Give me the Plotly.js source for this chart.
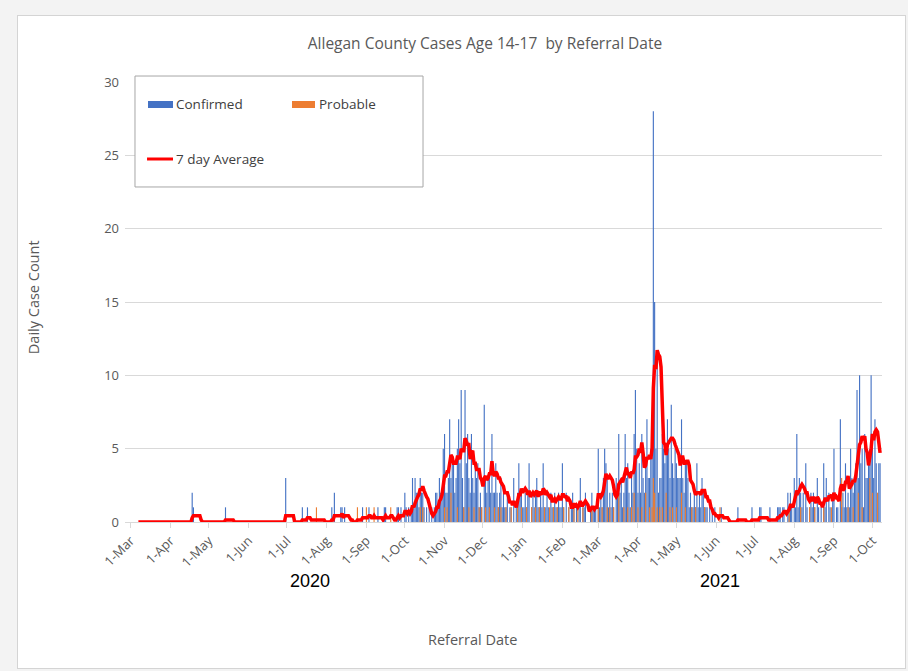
<!DOCTYPE html>
<html>
<head>
<meta charset="utf-8">
<script src="https://cdn.plot.ly/plotly-3.0.1.min.js"></script>
<style>
  html, body { margin: 0; padding: 0; background: #f3f3f3; width: 908px; height: 671px; overflow: hidden; }
  #frame { position: absolute; left: 17px; top: 15px; width: 889px; height: 654px; background: #ffffff; }
  #border { position: absolute; left: 17px; top: 15px; width: 889px; height: 654px; box-sizing: border-box; border: 1px solid #d4d4d4; pointer-events: none; }
  #chart { position: absolute; left: 0; top: 0; width: 889px; height: 654px; }
</style>
</head>
<body>
<div id="frame"><div id="chart"></div></div>
<div id="border"></div>
<script>
// Daily counts, one line per month, starting 1-Mar-2020.
const confirmed2020 = [
  0,0,0,0,0,0,0,0,0,0, 0,0,0,0,0,0,0,0,0,0, 0,0,0,0,0,0,0,0,0,0, 0,          // Mar
  0,0,0,0,0,0,0,0,0,0, 0,0,0,0,0,0,0,2,1,0, 0,0,0,0,0,0,0,0,0,0,            // Apr
  0,0,0,0,0,0,0,0,0,0, 0,0,0,1,0,0,0,0,0,0, 0,0,0,0,0,0,0,0,0,0, 0,          // May
  0,0,0,0,0,0,0,0,0,0, 0,0,0,0,0,0,0,0,0,0, 0,0,0,0,0,0,0,0,0,3,            // Jun
  0,0,0,0,0,0,0,0,0,0, 0,0,1,0,0,0,1,0,0,0, 0,0,0,0,0,0,0,0,0,0, 0,          // Jul
  0,0,0,0,1,0,2,0,0,0, 0,1,1,0,1,0,0,0,0,0, 0,0,0,0,0,0,0,0,1,0, 0,          // Aug
  0,0,1,0,0,0,0,0,0,1, 0,0,0,0,1,1,0,0,0,0, 0,0,0,0,1,1,0,1,0,0,            // Sep
  2,1,0,1,0,1,3,1,3,2, 2,1,3,2,2,1,0,1,0,1, 0,1,0,1,2,2,1,3,2,2, 5,          // Oct
  6,2,2,3,7,3,4,4,2,3, 5,7,4,9,3,1,9,4,6,3, 2,6,3,2,4,3,4,1,2,1,            // Nov
  0,8,3,2,3,3,2,6,2,2, 4,2,1,2,3,1,2,1,1,2, 0,1,1,0,3,0,1,2,4,2, 2           // Dec
];
const confirmed2021 = [
  1,1,2,1,2,4,0,1,2,1, 2,3,1,1,2,1,4,1,1,2, 1,0,2,1,1,2,1,1,2,1, 1,          // Jan
  4,1,0,2,0,1,0,1,2,1, 0,1,0,1,3,0,1,1,2,0, 0,0,1,2,1,1,1,0,                // Feb
  5,1,2,1,3,5,4,3,1,2, 1,2,1,0,3,2,6,2,3,1, 2,6,3,4,2,1,3,2,6,9, 5,          // Mar
  2,4,2,6,3,2,4,7,3,3, 5,7,28,15,5,11,2,3,3,6, 5,4,5,7,5,3,8,4,3,5,          // Apr
  4,3,3,3,7,3,2,4,4,3, 1,2,1,1,2,1,4,1,2,1, 3,2,1,1,1,0,1,0,1,0, 1,          // May
  0,0,0,0,1,0,0,0,0,0, 0,0,0,0,0,0,0,1,0,0, 0,0,0,0,0,0,0,0,1,0,            // Jun
  0,0,0,0,1,1,0,0,0,0, 0,0,1,0,0,0,0,0,1,1, 1,0,1,1,0,0,2,1,2,1, 0,          // Jul
  3,1,6,1,3,2,1,2,0,4, 1,0,1,2,1,2,1,0,3,1, 0,1,0,4,1,3,0,2,1,0, 2,          // Aug
  5,0,1,1,0,7,1,2,1,4, 1,2,1,5,3,2,3,4,9,3, 10,4,5,1,6,3,3,4,5,10,           // Sep
  6,3,7,4,1,4,4                                                              // Oct 1-7
];
const probable2020 = [
  0,0,0,0,0,0,0,0,0,0, 0,0,0,0,0,0,0,0,0,0, 0,0,0,0,0,0,0,0,0,0, 0,          // Mar
  0,0,0,0,0,0,0,0,0,0, 0,0,0,0,0,0,0,0,0,0, 0,0,0,0,0,0,0,0,0,0,            // Apr
  0,0,0,0,0,0,0,0,0,0, 0,0,0,0,0,0,0,0,0,0, 0,0,0,0,0,0,0,0,0,0, 0,          // May
  0,0,0,0,0,0,0,0,0,0, 0,0,0,0,0,0,0,0,0,0, 0,0,0,0,0,0,0,0,0,0,            // Jun
  0,0,0,0,0,0,0,0,0,0, 0,0,0,0,0,0,0,0,0,0, 0,0,0,1,0,0,0,0,0,0, 0,          // Jul
  0,0,0,0,0,0,0,0,0,0, 0,0,0,0,0,0,0,0,0,0, 0,0,0,0,1,0,0,0,0,0, 0,          // Aug
  1,0,0,0,0,0,1,0,0,0, 0,0,0,0,0,0,0,0,0,1, 0,0,0,0,0,0,0,0,0,0,            // Sep
  0,0,0,0,0,0,0,0,0,0, 0,0,1,0,1,0,0,0,0,0, 0,0,0,0,0,0,0,0,0,0, 0,          // Oct
  1,0,1,0,0,2,0,0,0,0, 1,0,0,0,0,1,0,0,0,1, 0,0,0,1,0,0,0,1,0,1,            // Nov
  0,0,1,0,0,1,0,0,0,1, 0,0,1,0,1,0,0,0,1,0, 0,0,1,0,0,0,0,1,0,0, 1           // Dec
];
const probable2021 = [
  0,0,0,1,0,0,0,1,0,0, 1,0,0,1,0,0,0,1,0,0, 0,1,0,0,1,0,0,1,0,0, 0,          // Jan
  0,1,0,0,0,1,0,0,0,1, 0,0,1,0,0,0,1,0,0,0, 0,0,0,1,0,0,0,0,                // Feb
  1,0,0,1,0,0,0,1,0,1, 0,0,1,0,0,0,2,0,0,0, 1,0,0,1,0,0,1,0,2,0, 0,          // Mar
  1,0,0,1,0,0,2,0,0,1, 0,1,3,2,0,1,0,1,0,1, 0,0,2,0,0,1,0,1,0,0,            // Apr
  1,0,0,0,2,0,0,1,0,0, 0,0,1,0,0,1,0,0,0,0, 0,0,1,0,0,0,0,0,0,0, 0,          // May
  0,0,0,1,0,0,0,0,0,0, 0,0,0,0,0,0,0,0,0,0, 0,0,0,0,0,0,0,0,0,0,            // Jun
  0,0,0,0,0,0,0,0,0,0, 0,0,0,0,0,0,0,0,0,0, 0,0,0,0,0,0,0,1,0,0, 0,          // Jul
  0,0,0,0,0,1,0,0,0,0, 0,0,1,0,0,0,1,0,0,0, 0,0,0,1,0,0,0,0,0,1, 0,          // Aug
  0,0,0,0,0,0,3,0,0,0, 0,1,0,0,0,1,0,0,0,2, 0,0,1,0,0,0,0,0,3,0,            // Sep
  2,0,0,0,2,0,0                                                              // Oct 1-7
];

// Month tick labels of the date axis
const tickDates = ['2020-03-01','2020-04-01','2020-05-01','2020-06-01','2020-07-01','2020-08-01',
  '2020-09-01','2020-10-01','2020-11-01','2020-12-01','2021-01-01','2021-02-01','2021-03-01',
  '2021-04-01','2021-05-01','2021-06-01','2021-07-01','2021-08-01','2021-09-01','2021-10-01'];
const tickLabels = ['1-Mar','1-Apr','1-May','1-Jun','1-Jul','1-Aug','1-Sep','1-Oct','1-Nov','1-Dec',
  '1-Jan','1-Feb','1-Mar','1-Apr','1-May','1-Jun','1-Jul','1-Aug','1-Sep','1-Oct'];
const yearLabels = ['2020', '2021'];
const seriesNames = ['Confirmed', 'Probable', '7 day Average'];

const confirmed = confirmed2020.concat(confirmed2021);
const probable = probable2020.concat(probable2021);
const DAY = 86400000;
const start = Date.UTC(2020, 2, 1);
const dates = confirmed.map((_, i) => new Date(start + i * DAY).toISOString().slice(0, 10));

// 7-day trailing average of all cases (confirmed + probable)
const avgX = [], avgY = [];
for (let i = 6; i < confirmed.length; i++) {
  let s = 0;
  for (let k = i - 6; k <= i; k++) s += confirmed[k] + probable[k];
  avgX.push(dates[i]);
  avgY.push(s / 7);
}

const BLUE = '#4472C4', ORANGE = '#ED7D31', RED = '#FF0000';
const FONT = 'Open Sans, Noto Sans, sans-serif';

const traces = [
  { type: 'bar', name: seriesNames[0], x: dates, y: confirmed, width: 0.88 * DAY,
    marker: { color: BLUE, line: { width: 0 } }, hoverinfo: 'skip' },
  { type: 'bar', name: seriesNames[1], x: dates, y: probable, width: 0.88 * DAY,
    marker: { color: ORANGE, line: { width: 0 } }, hoverinfo: 'skip' },
  { type: 'scatter', mode: 'lines', name: seriesNames[2], x: avgX, y: avgY,
    line: { color: RED, width: 3.5 }, hoverinfo: 'skip' }
];

const layout = {
  width: 889, height: 654,
  margin: { l: 108, r: 24, t: 67, b: 147 },
  paper_bgcolor: '#ffffff', plot_bgcolor: '#ffffff',
  showlegend: false,
  barmode: 'overlay',
  font: { family: FONT, color: '#595959' },
  title: {
    text: 'Allegan County Cases Age 14-17 \u00a0by Referral Date',
    xref: 'container', x: 0.5264, xanchor: 'center',
    yref: 'container', y: 0.9557, yanchor: 'middle',
    font: { family: FONT, size: 15.5, color: '#595959' }
  },
  xaxis: {
    type: 'date',
    range: ['2020-02-25 13:12', '2021-10-08 12:00'],
    tickvals: tickDates, ticktext: tickLabels,
    tickangle: -45,
    tickfont: { family: FONT, size: 13, color: '#595959' },
    ticks: 'outside', ticklen: 5, tickcolor: '#d9d9d9',
    showline: true, linecolor: '#d9d9d9', linewidth: 1,
    showgrid: false, zeroline: false, fixedrange: true
  },
  yaxis: {
    range: [0, 30], tick0: 0, dtick: 5,
    tickfont: { family: FONT, size: 13, color: '#595959' },
    gridcolor: '#d9d9d9', gridwidth: 1,
    showline: false, zeroline: false, ticks: '',
    ticklabelstandoff: 5, fixedrange: true
  },
  shapes: [
    { type: 'rect', xref: 'paper', yref: 'paper', x0: 0.0132, x1: 0.3937, y0: 0.7614, y1: 1.0136,
      line: { color: '#a6a6a6', width: 1 }, fillcolor: '#ffffff', layer: 'above' },
    { type: 'rect', xref: 'paper', yref: 'paper', x0: 0.0304, x1: 0.0634, y0: 0.9409, y1: 0.9568,
      line: { width: 0 }, fillcolor: BLUE, layer: 'above' },
    { type: 'rect', xref: 'paper', yref: 'paper', x0: 0.2206, x1: 0.2510, y0: 0.9409, y1: 0.9568,
      line: { width: 0 }, fillcolor: ORANGE, layer: 'above' },
    { type: 'line', xref: 'paper', yref: 'paper', x0: 0.0291, x1: 0.0634, y0: 0.825, y1: 0.825,
      line: { color: RED, width: 3 }, layer: 'above' }
  ],
  annotations: [
    { text: seriesNames[0], xref: 'paper', yref: 'paper', x: 0.0648, y: 0.95, xanchor: 'left', yanchor: 'middle',
      showarrow: false, font: { family: FONT, size: 13.5, color: '#404040' } },
    { text: seriesNames[1], xref: 'paper', yref: 'paper', x: 0.2537, y: 0.95, xanchor: 'left', yanchor: 'middle',
      showarrow: false, font: { family: FONT, size: 13.5, color: '#404040' } },
    { text: seriesNames[2], xref: 'paper', yref: 'paper', x: 0.0648, y: 0.826, xanchor: 'left', yanchor: 'middle',
      showarrow: false, font: { family: FONT, size: 13.5, color: '#404040' } },
    { text: yearLabels[0], xref: 'paper', yref: 'paper', x: 0.2444, y: -0.134, xanchor: 'center', yanchor: 'middle',
      showarrow: false, font: { family: 'Liberation Sans, Arial, sans-serif', size: 18, color: '#000000' } },
    { text: yearLabels[1], xref: 'paper', yref: 'paper', x: 0.786, y: -0.134, xanchor: 'center', yanchor: 'middle',
      showarrow: false, font: { family: 'Liberation Sans, Arial, sans-serif', size: 18, color: '#000000' } },
    { text: 'Daily Case Count', xref: 'paper', yref: 'paper', x: -0.1215, y: 0.511, textangle: -90,
      xanchor: 'center', yanchor: 'middle', showarrow: false, font: { family: FONT, size: 14.5, color: '#595959' } },
    { text: 'Referral Date', xref: 'paper', yref: 'paper', x: 0.4597, y: -0.266,
      xanchor: 'center', yanchor: 'middle', showarrow: false, font: { family: FONT, size: 14.5, color: '#595959' } }
  ]
};

Plotly.newPlot('chart', traces, layout, { staticPlot: true, displayModeBar: false });
</script>
</body>
</html>
